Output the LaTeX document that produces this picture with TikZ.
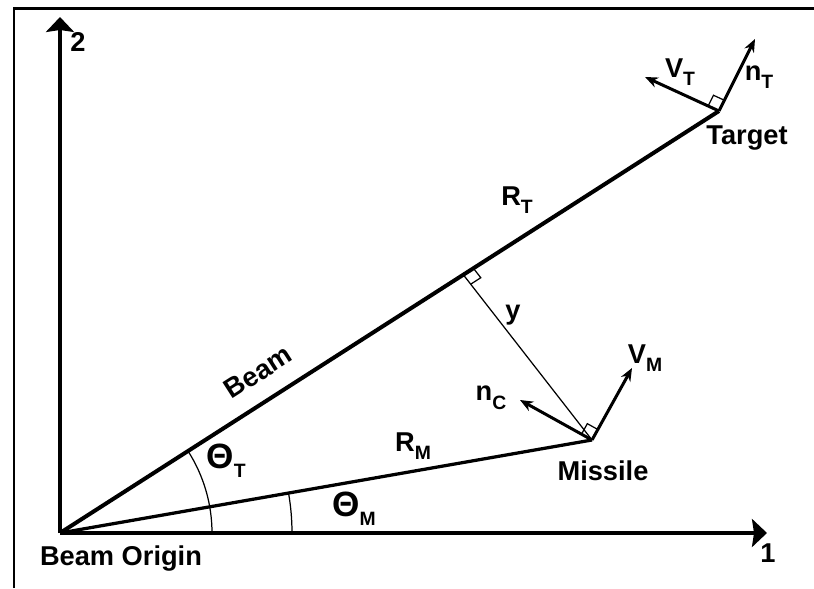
\documentclass[tikz,border=0pt]{standalone}
\usepackage{fontspec}
\setmainfont{Liberation Sans}
\usetikzlibrary{arrows.meta,calc}
\newcommand{\sbs}[1]{\raisebox{-.6ex}{\fontsize{11}{12}\selectfont#1}}
\newcommand{\thet}{{\fontsize{20}{21}\selectfont Θ}}

\begin{document}
\begin{tikzpicture}[x=.02cm,y=.02cm,font=\bfseries\fontsize{15.5}{17}\selectfont,
lbl/.style={inner sep=0pt},
axis/.style={-{Stealth[length=.3cm,width=.56cm,inset=.04cm]},line width=.08cm},
ray/.style={line width=.08cm},
vec/.style={-{Stealth[length=.26cm,width=.21cm]},line width=.06cm},
thinline/.style={line width=.7pt}]

\useasboundingbox(0,0)rectangle(814,588);
\draw[line width=.06cm](14,0)--(14,579)--(814,579);
\coordinate(O)at(60,55);
\coordinate(X1)at(767,55);
\coordinate(X2)at(60,571);
\coordinate(T)at(719,477);
\coordinate(M)at(592,148);
\coordinate(F)at($(O)!.612!(T)$);
\coordinate(VT)at(645,511);
\coordinate(NT)at(755,549);
\coordinate(VM)at(632,220);
\coordinate(NC)at(520,188);
\draw[axis](O)--(X2);
\draw[axis](O)--(X1);
\draw[ray](O)--(T);
\draw[ray,line width=.065cm](O)--(M);
\draw[thinline](M)--(F);
\draw[vec](T)--(VT);
\draw[vec](T)--(NT);
\draw[vec](M)--(VM);
\draw[vec](M)--(NC);
\foreach \p/\a/\b in {T/VT/NT,M/VM/NC,F/T/M}{
  \coordinate(ra)at($(\p)!.24cm!(\a)$);
  \coordinate(rb)at($(\p)!.24cm!(\b)$);
  \draw[thinline](ra)--($(ra)+(rb)-(\p)$)--(rb);
}
\draw[thinline]($(O)+(152,0)$)arc(0:32.63:152);
\draw[thinline]($(O)+(232,0)$)arc(0:9.92:232);
\node[lbl](l2)at(78,546){2};
\node[lbl](l1)at(768,35){1};
\node[lbl](lvt)at(680,516){V\sbs{T}};
\node[lbl](lnt)at(759,511){n\sbs{T}};
\node[lbl](ltg)at(747,450){Target};
\node[lbl](lrt)at(517,388){R\sbs{T}};
\node[lbl](ly)at(513,273){y};
\node[lbl,rotate=32.63](lbm)at(258,216){Beam};
\node[lbl](lnc)at(491,190){n\sbs{C}};
\node[lbl](lvm)at(645,230){V\sbs{M}};
\node[lbl](lms)at(603,117){Missile};
\node[lbl](lrm)at(413,142){R\sbs{M}};
\node[lbl](lth)at(226,127){\thet\sbs{T}};
\node[lbl](lthm)at(354,79){\thet\sbs{M}};
\node[lbl](lbo)at(121,29){Beam Origin};
\end{tikzpicture}
\end{document}
